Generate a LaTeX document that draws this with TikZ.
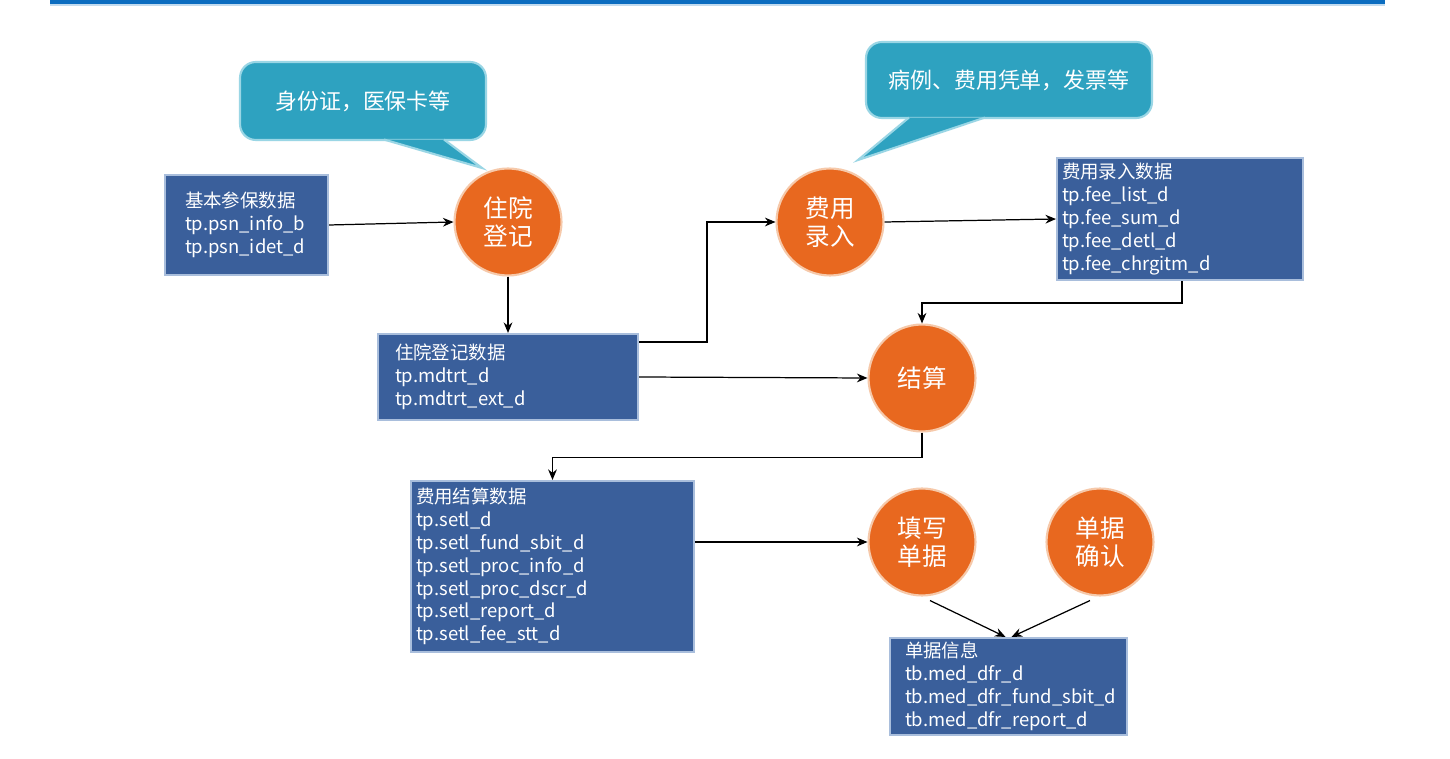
\documentclass[tikz,border=0pt]{standalone}
\usepackage{fontspec}
\setmainfont{Noto Sans CJK SC}
\usetikzlibrary{positioning,arrows.meta,calc}

\definecolor{barblue}{HTML}{0B6DC0}
\definecolor{tblfill}{HTML}{3A5F9B}
\definecolor{tbledge}{HTML}{A9BEDC}
\definecolor{procfill}{HTML}{E8681F}
\definecolor{procedge}{HTML}{F6C9AA}
\definecolor{notefill}{HTML}{2EA2C0}
\definecolor{noteedge}{HTML}{9AD6E5}

\begin{document}
\begin{tikzpicture}[x=0.02cm,y=-0.02cm,
  tbl/.style={draw=tbledge,line width=1.2pt,fill=tblfill,text=white,align=left,
    font=\fontsize{10.5}{13}\selectfont,inner ysep=2pt},
  proc/.style={circle,draw=procedge,line width=1.2pt,fill=procfill,text=white,
    minimum size=2.14cm,inner sep=0pt,align=center,font=\fontsize{14}{16}\selectfont},
  note/.style={draw=noteedge,line width=1.2pt,fill=notefill,rounded corners=9pt,
    text=white,font=\fontsize{12.5}{15}\selectfont},
  tip/.style={draw=noteedge,line width=1.2pt,fill=notefill},
  sig/.style={-{Stealth[length=6pt,width=5pt]},line width=0.7pt},
]
\fill[white] (0,0) rectangle (1450,759);
\useasboundingbox (0,0) rectangle (1450,759);
% top rule
\fill[barblue] (50,0) rectangle (1385,4.5);
\fill[barblue!25] (50,4.5) rectangle (1385,6.5);
% process steps
\node[proc] (reg)  at (508,222)  {住院\\登记};
\node[proc] (fee)  at (830,222)  {费用\\录入};
\node[proc] (setl) at (922,378)  {结算};
\node[proc] (fill) at (922,542)  {填写\\单据};
\node[proc] (conf) at (1100,542) {单据\\确认};
% data tables
\node[tbl,minimum height=2cm,text width=2.46cm,inner xsep=0.4cm] (base) at (246.5,225)
  {基本参保数据\\tp.psn\_info\_b\\tp.psn\_idet\_d};
\node[tbl,minimum height=1.72cm,text width=4.52cm,inner xsep=0.34cm] (regdat) at (508,377)
  {住院登记数据\\tp.mdtrt\_d\\tp.mdtrt\_ext\_d};
\node[tbl,minimum height=2.44cm,text width=4.72cm,inner xsep=0.1cm] (feedat) at (1180,219)
  {费用录入数据\\tp.fee\_list\_d\\tp.fee\_sum\_d\\tp.fee\_detl\_d\\tp.fee\_chrgitm\_d};
\node[tbl,minimum height=3.42cm,text width=5.46cm,inner xsep=0.1cm] (setldat) at (552.5,566.5)
  {费用结算数据\\tp.setl\_d\\tp.setl\_fund\_sbit\_d\\tp.setl\_proc\_info\_d\\tp.setl\_proc\_dscr\_d\\tp.setl\_report\_d\\tp.setl\_fee\_stt\_d};
\node[tbl,minimum height=1.94cm,text width=4.14cm,inner xsep=0.3cm] (dfrdat) at (1008.5,686.5)
  {单据信息\\tb.med\_dfr\_d\\tb.med\_dfr\_fund\_sbit\_d\\tb.med\_dfr\_report\_d};
% callouts
\node[note,minimum width=4.92cm,minimum height=1.56cm] (n1) at (363,101) {身份证，医保卡等};
\coordinate (t1) at (482,168);
\path[tip] ($(n1.south west)+(145,-1.5)$) -- (t1) -- ($(n1.south west)+(205,-1.5)$);
\node[note,minimum width=5.72cm,minimum height=1.52cm] (n2) at (1009,80) {病例、费用凭单，发票等};
\coordinate (t2) at (858,160);
\path[tip] ($(n2.south west)+(120,-1.5)$) -- (t2) -- ($(n2.south west)+(44,-1.5)$);
% flow
\draw[sig] (base.east) -- (reg.west);
\draw[sig] (reg.south) -- (regdat.north);
\draw[sig] ([yshift=-0.18cm]regdat.north east) -- ++(68,0) |- (fee.west);
\draw[sig] (regdat.east) -- (setl.west);
\draw[sig] (fee.east) -- (feedat.west);
\draw[sig] ([xshift=0.04cm]feedat.south) -- ++(0,22) -| (setl.north);
\draw[sig] (setl.south) -- ++(0,25) -| (setldat.north);
\draw[sig] (setldat.east |- fill) -- (fill.west);
\draw[sig] ([shift={(8,4)}]fill.south) -- ([xshift=-0.06cm]dfrdat.north);
\draw[sig] ([shift={(-10,4)}]conf.south) -- ([xshift=0.06cm]dfrdat.north);
\end{tikzpicture}
\end{document}
